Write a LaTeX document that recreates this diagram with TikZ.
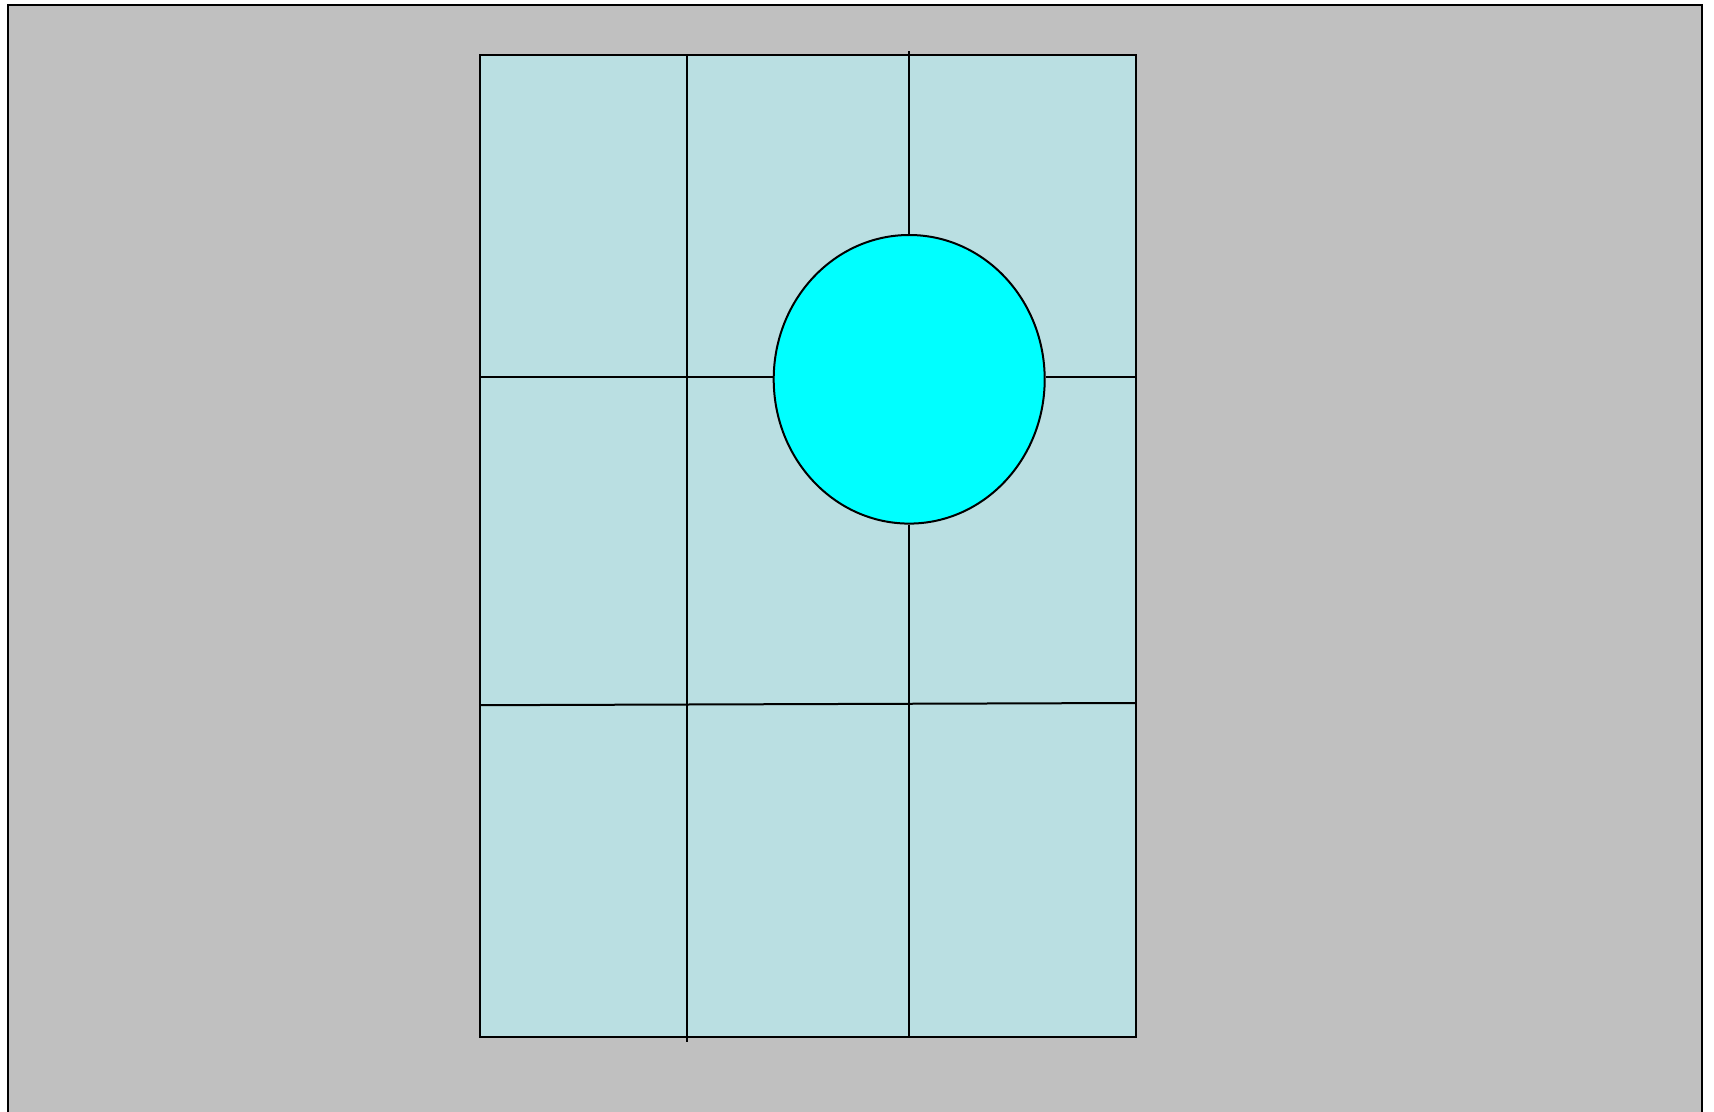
\documentclass[tikz,border=0pt]{standalone}
\usetikzlibrary{shapes.geometric}
\definecolor{bggray}{HTML}{C0C0C0}
\definecolor{paneblue}{HTML}{BADFE2}
\definecolor{discyan}{HTML}{00FFFF}
\begin{document}
\begin{tikzpicture}[x=0.5pt,y=-0.5pt,
  edge/.style={draw=black,line width=1pt},
  disc/.style={ellipse,draw=black,line width=1pt,fill=discyan,minimum width=271*0.5pt,minimum height=288.6*0.5pt,inner sep=0pt}]
\useasboundingbox (0,0) rectangle (1714,1112);
\clip (0,0) rectangle (1714,1112);
\fill[white] (0,0) rectangle (1714,1112);
% background panel
\draw[edge,fill=bggray] (7.5,5.5) rectangle (1702,1130);
% pane
\draw[edge,fill=paneblue] (480,54.7) rectangle (1135.7,1037.4);
% coordinates
\coordinate (v1t) at (686.5,54.7);
\coordinate (v1b) at (686.5,1041.7);
\coordinate (v2t) at (909.2,51.4);
\coordinate (v2b) at (909.2,1037.4);
\coordinate (h1l) at (480,377.1);
\coordinate (h1r) at (1135.7,377.1);
\coordinate (h2l) at (480,705.2);
\coordinate (h2r) at (1135.7,703.0);
% grid lines
\draw[edge] (v1t) -- (v1b);
\draw[edge] (h2l) -- (h2r);
\node[disc] (ell) at (909.2,379.3) {};
\draw[edge] (v2t) -- (ell.north);
\draw[edge] (ell.south) -- (v2b);
\draw[edge] (h1l) -- (h1l -| ell.west);
\draw[edge] (h1r -| ell.east) -- (h1r);
\end{tikzpicture}
\end{document}
